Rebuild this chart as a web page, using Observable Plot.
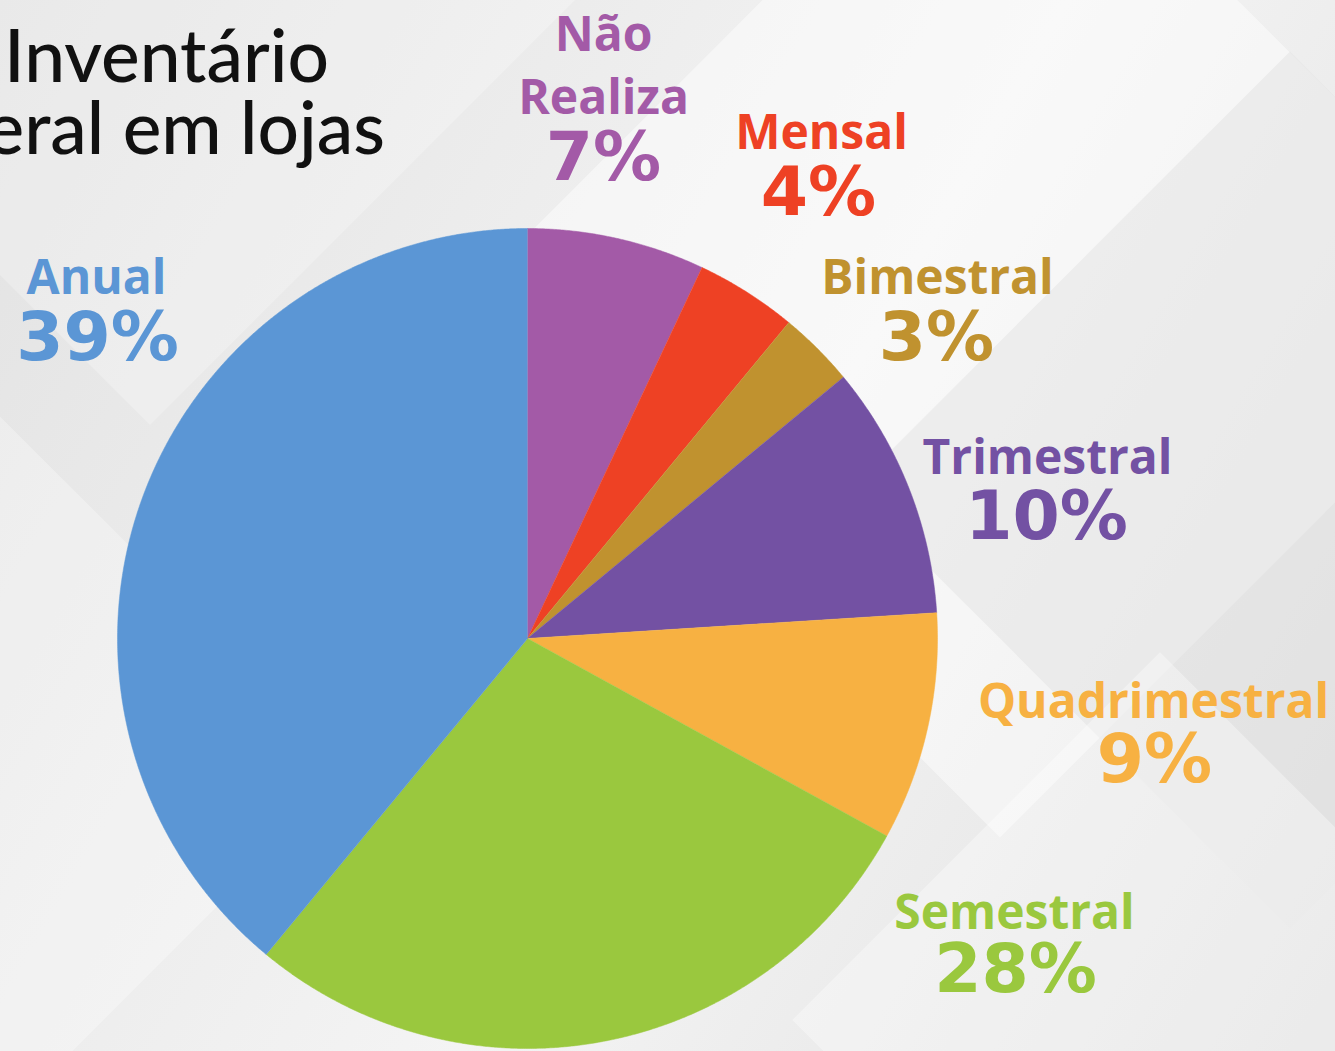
<!DOCTYPE html>
<html><head><meta charset="utf-8">
<script src="https://cdn.jsdelivr.net/npm/d3@7"></script>
<script src="https://cdn.jsdelivr.net/npm/@observablehq/plot@0.6"></script>
<style>
html,body{margin:0;padding:0;}
body{width:1335px;height:1051px;overflow:hidden;position:relative;
  background:linear-gradient(120deg,#e2e2e2 0%,#ececec 30%,#f4f4f4 55%,#e9e9e9 80%,#e0e0e0 100%);}
.bg{position:absolute;transform:rotate(45deg);}
#chart{position:absolute;left:0;top:0;}
</style></head>
<body>
<div class="bg" style="left:-200px;top:-420px;width:700px;height:700px;background:rgba(255,255,255,0.25)"></div>
<div class="bg" style="left:620px;top:-80px;width:760px;height:760px;background:rgba(255,255,255,0.45)"></div>
<div class="bg" style="left:980px;top:180px;width:620px;height:620px;background:rgba(225,225,225,0.45)"></div>
<div class="bg" style="left:900px;top:760px;width:520px;height:520px;background:rgba(255,255,255,0.35)"></div>
<div class="bg" style="left:-250px;top:520px;width:500px;height:500px;background:rgba(255,255,255,0.3)"></div>
<div id="chart"></div>
<script>
// ---- data ----
const categories = ["Não Realiza", "Mensal", "Bimestral", "Trimestral", "Quadrimestral", "Semestral", "Anual"];
const labelTexts = ["Não\nRealiza", "Mensal", "Bimestral", "Trimestral", "Quadrimestral", "Semestral", "Anual"];
const values = [7, 4, 3, 10, 9, 28, 39];
const colors = ["#a35aa7", "#ee4124", "#c0922f", "#7351a3", "#f7b142", "#9ac83e", "#5b96d5"];
const titleText = "Inventário\ngeral em lojas";

// ---- layout (pixels) ----
const W = 1335, H = 1051;
const cx = 527, cy = 638, R = 410;
const nameAt = [[603,113],[821,148],[937,293],[1047,473],[1153,717],[1014,928],[96,293]];
const pctAt  = [[603,179],[818,214],[936,359],[1046,538],[1154,781],[1015,991],[97,359]];
const titleAt = [166,153];

// ---- pie geometry from values ----
const pie = d3.pie().sort(null).value(d => d.value)(categories.map((c,i)=>({name:c, value:values[i]})));
const pts = [];
for (const s of pie) {
  pts.push({name:s.data.name, x:cx, y:cy});
  const step = Math.PI/720;
  for (let a = s.startAngle; a < s.endAngle; a += step) pts.push({name:s.data.name, x:cx+R*Math.sin(a), y:cy-R*Math.cos(a)});
  pts.push({name:s.data.name, x:cx+R*Math.sin(s.endAngle), y:cy-R*Math.cos(s.endAngle)});
}
const labels = categories.map((c,i)=>({name:c, text:labelTexts[i], pct:values[i]+"%", nx:nameAt[i][0], ny:nameAt[i][1], px:pctAt[i][0], py:pctAt[i][1]}));

const chart = Plot.plot({
  width: W, height: H, margin: 0,
  x: {domain:[0,W], range:[0,W], axis:null},
  y: {domain:[0,H], range:[0,H], axis:null},
  color: {domain: categories, range: colors},
  style: {background:"transparent", overflow:"visible"},
  marks: [
    Plot.line(pts, {x:"x", y:"y", z:"name", fill:"name", stroke:"name", strokeWidth:0.5, curve:"linear"}),
    Plot.text(labels, {x:"nx", y:"ny", text:"text", fill:"name", fontSize:48, fontWeight:700,
      fontFamily:"Open Sans", lineAnchor:"bottom", lineHeight:1.31, textAnchor:"middle"}),
    Plot.text(labels, {x:"px", y:"py", text:"pct", fill:"name", fontSize:68, fontWeight:700,
      fontFamily:"DejaVu Sans", lineAnchor:"bottom", textAnchor:"middle"}),
    Plot.text([titleText], {x:titleAt[0], y:titleAt[1], text:d=>d, fill:"#111", fontSize:73, fontWeight:500,
      fontFamily:"Lato", lineAnchor:"bottom", lineHeight:0.973, textAnchor:"middle"})
  ]
});
document.getElementById("chart").appendChild(chart);
</script>
</body></html>
